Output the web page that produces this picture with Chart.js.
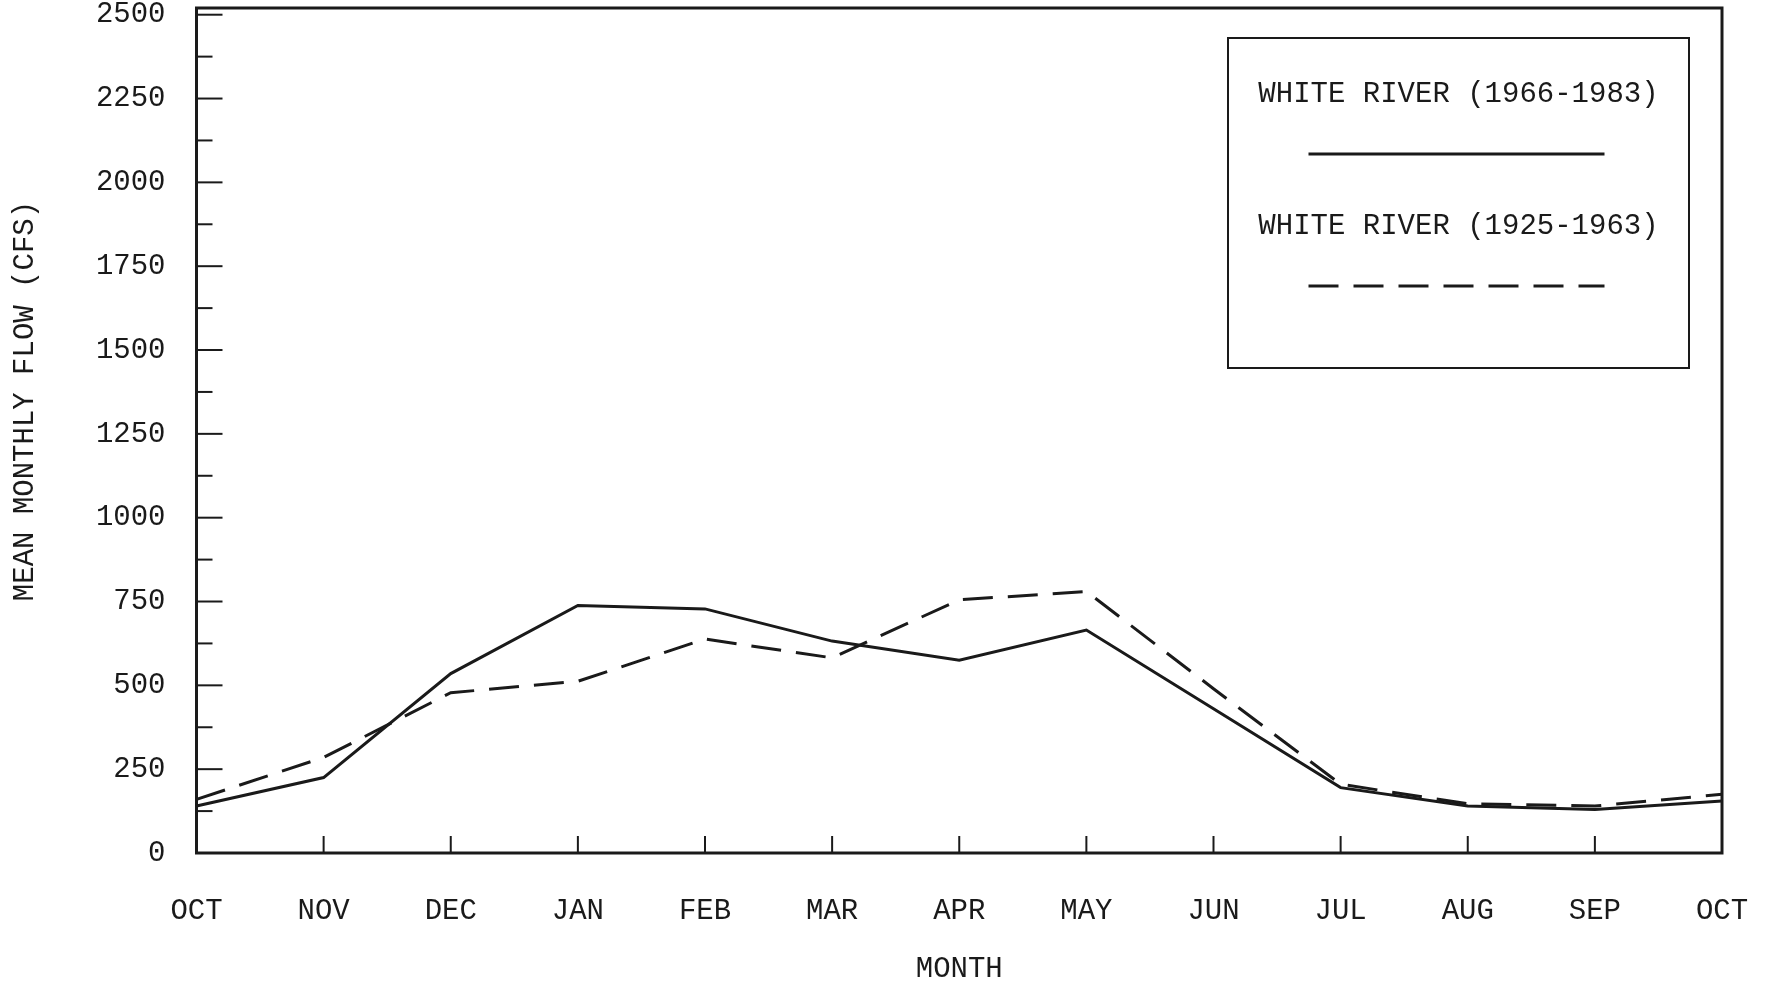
<!DOCTYPE html>
<html>
<head>
<meta charset="utf-8">
<script src="https://cdn.jsdelivr.net/npm/chart.js@4"></script>
<style>
html,body{margin:0;padding:0;background:#fff}
#wrap{width:1771px;height:987px}
</style>
</head>
<body>
<div id="wrap"><canvas id="flowChart"></canvas></div>
<script>
const months = ['OCT','NOV','DEC','JAN','FEB','MAR','APR','MAY','JUN','JUL','AUG','SEP','OCT']
const flow1966 = [140,225,535,738,728,632,575,665,430,195,140,130,155]
const flow1925 = [160,285,478,512,638,582,755,780,490,205,147,140,175]
const seriesNames = ['WHITE RIVER (1966-1983)','WHITE RIVER (1925-1963)']
const yTicks = [0,250,500,750,1000,1250,1500,1750,2000,2250,2500]
const yTop = 2520   // frame sits a little above the 2500 tick
const yTitle = 'MEAN MONTHLY FLOW (CFS)'
const xTitle = 'MONTH'

const ink = '#1a1a1a'
const fontFamily = '"Courier New", "Liberation Mono", monospace'
const font = {family: fontFamily, size: 29, lineHeight: 1.2}

// frame, inward ticks, rotated y title and the boxed legend
const framePlugin = {
  id: 'frame',
  afterDraw(chart){
    const ctx = chart.ctx
    const a = chart.chartArea
    const xs = chart.scales.x, ys = chart.scales.y
    ctx.save()
    ctx.strokeStyle = ink
    ctx.lineWidth = 3
    ctx.strokeRect(a.left, a.top, a.right - a.left, a.bottom - a.top)

    ctx.lineWidth = 2
    for(let i = 1; i < months.length - 1; i++){
      const px = xs.getPixelForValue(i)
      ctx.beginPath(); ctx.moveTo(px, a.bottom); ctx.lineTo(px, a.bottom - 17); ctx.stroke()
    }
    for(let i = 1; i < yTicks.length; i++){
      const major = ys.getPixelForValue(yTicks[i])
      const minor = ys.getPixelForValue((yTicks[i] + yTicks[i-1]) / 2)
      ctx.beginPath(); ctx.moveTo(a.left, major); ctx.lineTo(a.left + 26, major); ctx.stroke()
      ctx.beginPath(); ctx.moveTo(a.left, minor); ctx.lineTo(a.left + 16, minor); ctx.stroke()
    }

    ctx.fillStyle = ink
    ctx.font = `29px ${fontFamily}`
    ctx.textAlign = 'center'
    ctx.textBaseline = 'middle'
    ctx.save()
    ctx.translate(25, 401)
    ctx.rotate(-Math.PI/2)
    ctx.fillText(yTitle, 0, 0)
    ctx.restore()

    // legend box
    const bx = a.right - 494, by = a.top + 30, bw = 461, bh = 330
    ctx.lineWidth = 2
    ctx.strokeRect(bx, by, bw, bh)
    const cx = bx + bw/2
    chart.data.datasets.forEach((ds, i) => {
      const ty = by + 56 + i*132
      ctx.fillText(ds.label, cx, ty)
      ctx.save()
      ctx.lineWidth = ds.borderWidth
      ctx.setLineDash(ds.borderDash || [])
      ctx.beginPath(); ctx.moveTo(cx - 150, ty + 60); ctx.lineTo(cx + 146, ty + 60); ctx.stroke()
      ctx.restore()
    })
    ctx.restore()
  }
}

new Chart(document.getElementById('flowChart'), {
  type: 'line',
  data: {
    labels: months,
    datasets: [{
      label: seriesNames[0],
      data: flow1966,
      borderColor: ink,
      borderWidth: 3,
      pointRadius: 0,
      tension: 0,
      fill: false
    },{
      label: seriesNames[1],
      data: flow1925,
      borderColor: ink,
      borderWidth: 3,
      borderDash: [30, 15],
      pointRadius: 0,
      tension: 0,
      fill: false
    }]
  },
  options: {
    responsive: true,
    maintainAspectRatio: false,
    animation: false,
    layout: {padding: {left: 8, top: 8, right: 49, bottom: 0}},
    plugins: {legend: {display: false}, tooltip: {enabled: false}},
    scales: {
      x: {
        grid: {display: false, drawTicks: false},
        border: {display: false},
        ticks: {color: ink, font: font, padding: 41, autoSkip: false, maxRotation: 0},
        title: {display: true, text: xTitle, color: ink, font: font, padding: 0},
        afterFit(s){ s.height = 134; s.paddingLeft = 0; s.paddingRight = 0 }
      },
      y: {
        min: 0,
        max: yTop,
        grid: {display: false, drawTicks: false},
        border: {display: false},
        ticks: {color: ink, font: font, padding: 31, autoSkip: false, callback: v => v},
        afterBuildTicks(s){ s.ticks = yTicks.map(v => ({value: v})) },
        afterFit(s){ s.width = 188.5; s.paddingTop = 0; s.paddingBottom = 0 }
      }
    }
  },
  plugins: [framePlugin]
})
</script>
</body>
</html>
